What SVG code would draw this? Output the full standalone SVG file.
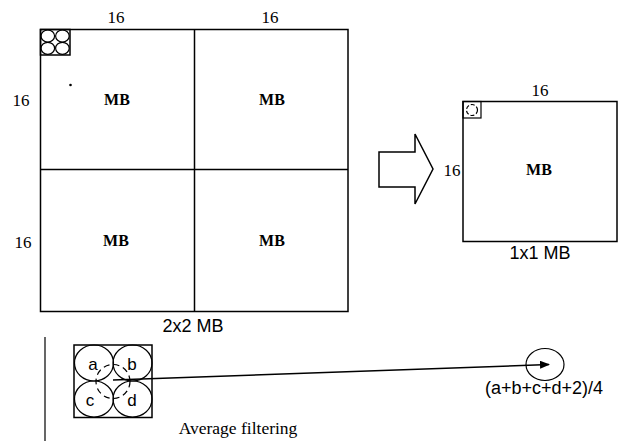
<svg xmlns="http://www.w3.org/2000/svg" width="622" height="441" viewBox="0 0 622 441">
<defs>
<style>
.ln{fill:none;stroke:#000;stroke-width:1.5}
.thin{fill:none;stroke:#000;stroke-width:1.2}
.ser{font-family:"Liberation Serif","Times New Roman",serif;font-size:17px;fill:#000}
.bold{font-weight:bold;font-size:16px}
.sans{font-family:"Liberation Sans",Arial,sans-serif;font-size:18px;fill:#000}
.lt{font-family:"Liberation Sans",Arial,sans-serif;font-size:17px;fill:#000}
.dash{fill:none;stroke:#000;stroke-width:1.2;stroke-dasharray:6 4}
</style>
<marker id="ah" markerWidth="10" markerHeight="8" refX="9" refY="4" orient="auto" markerUnits="userSpaceOnUse">
<path d="M0,0 L10,4 L0,8 Z" fill="#000"/>
</marker>
</defs>
<rect width="622" height="441" fill="#fff"/>

<g id="mb2x2">
<rect class="ln" x="40.5" y="29.5" width="307.5" height="282"/>
<line class="ln" x1="194.5" y1="29.5" x2="194.5" y2="311.5"/>
<line class="ln" x1="40.5" y1="169.5" x2="348" y2="169.5"/>
<rect class="ln" x="40.5" y="29.5" width="29.5" height="25.5"/>
<ellipse class="thin" cx="47.8" cy="36" rx="6.8" ry="6"/>
<ellipse class="thin" cx="62.4" cy="36" rx="6.8" ry="6"/>
<ellipse class="thin" cx="47.8" cy="48.3" rx="6.8" ry="6"/>
<ellipse class="thin" cx="62.4" cy="48.3" rx="6.8" ry="6"/>
<circle cx="70.5" cy="85" r="1.3" fill="#000"/>
<text class="ser" x="116" y="23" text-anchor="middle">16</text>
<text class="ser" x="270" y="23" text-anchor="middle">16</text>
<text class="ser" x="21" y="106" text-anchor="middle">16</text>
<text class="ser" x="23" y="248" text-anchor="middle">16</text>
<text class="ser bold" x="117" y="105" text-anchor="middle">MB</text>
<text class="ser bold" x="272" y="105" text-anchor="middle">MB</text>
<text class="ser bold" x="116" y="246" text-anchor="middle">MB</text>
<text class="ser bold" x="272" y="246" text-anchor="middle">MB</text>
<text class="sans" x="193" y="332" text-anchor="middle">2x2 MB</text>
</g>

<g id="bigarrow">
<path class="ln" d="M379,152 L415,152 L415,134 L433,169 L415,204 L415,187 L379,187 Z"/>
</g>

<g id="mb1x1">
<rect class="ln" x="463" y="101.5" width="154" height="140"/>
<rect class="thin" x="463" y="101.5" width="18" height="16.5"/>
<circle class="thin" cx="472" cy="110" r="5.5" stroke-dasharray="4 2"/>
<text class="ser" x="540" y="96" text-anchor="middle">16</text>
<text class="ser" x="452" y="176" text-anchor="middle">16</text>
<text class="ser bold" x="539" y="175" text-anchor="middle">MB</text>
<text class="sans" x="540" y="259" text-anchor="middle">1x1 MB</text>
</g>

<g id="filter">
<line class="thin" x1="45" y1="337" x2="45" y2="441"/>
<rect class="ln" x="74" y="345" width="78" height="72.5"/>
<ellipse class="thin" cx="94" cy="363" rx="19.5" ry="18"/>
<ellipse class="thin" cx="132.5" cy="363" rx="19.5" ry="18"/>
<ellipse class="thin" cx="94" cy="399" rx="19.5" ry="18"/>
<ellipse class="thin" cx="132.5" cy="399" rx="19.5" ry="18"/>
<circle class="dash" cx="113" cy="381.5" r="17"/>
<text class="lt" x="93" y="370" text-anchor="middle">a</text>
<text class="lt" x="132" y="370" text-anchor="middle">b</text>
<text class="lt" x="90" y="406" text-anchor="middle">c</text>
<text class="lt" x="132" y="406" text-anchor="middle">d</text>
<text class="ser" x="238" y="434" text-anchor="middle" style="font-size:17.5px">Average filtering</text>
</g>

<g id="result">
<ellipse class="thin" cx="545" cy="364.5" rx="19" ry="16"/>
<text class="sans" x="544" y="394" text-anchor="middle">(a+b+c+d+2)/4</text>
</g>

<g id="connectors">
<line x1="113" y1="380" x2="549" y2="364.5" stroke="#000" stroke-width="1.5" marker-end="url(#ah)"/>
</g>
</svg>
